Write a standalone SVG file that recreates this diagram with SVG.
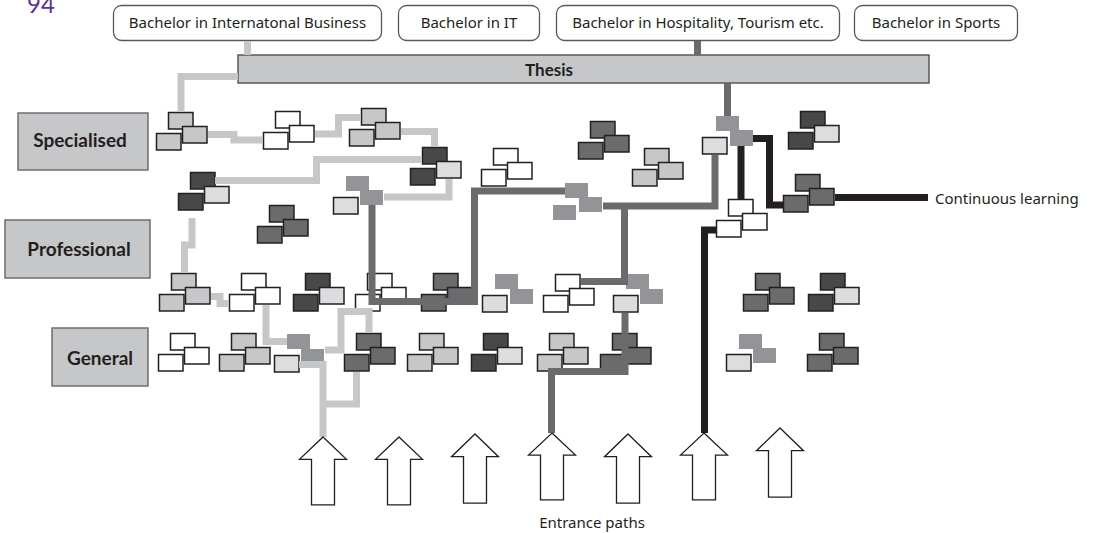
<svg xmlns="http://www.w3.org/2000/svg" width="1096" height="533" viewBox="0 0 1096 533">
<style>
text{font-family:"Noto Sans",Lato,"Liberation Sans",sans-serif;fill:#231f20}
.lbl{font-size:15px;text-anchor:middle}
.side{font-family:Lato,"Noto Sans",sans-serif;font-size:19px;font-weight:bold;text-anchor:middle}
.box{fill:#c6c7c9;stroke:#6d6e70;stroke-width:1.5}
.bach{fill:#fff;stroke:#58595b;stroke-width:1.3}
.r rect{stroke:#231f20;stroke-width:1.5}
.r rect.bl{stroke:none;fill:#939497}
.w{fill:#fff}.lg{fill:#c6c7c9}.vl{fill:#dcddde}.md{fill:#6b6b6e}.dk{fill:#48484a}
.p{fill:none;stroke-width:7;stroke-linejoin:miter;stroke-linecap:butt}
.pl{stroke:#c6c7c9}.pm{stroke:#6b6b6e}.pk{stroke:#231f20}
.arr{fill:#fff;stroke:#231f20;stroke-width:1.3}
</style>
<defs>
<polygon id="arrow" points="0,0 23.5,23 11.5,23 11.5,70 -11.5,70 -11.5,23 -23.5,23"/>
</defs>

<text x="27" y="13" style="font-family:Lato,sans-serif;font-size:24px;fill:#5c2e91">94</text>

<g id="bachelor-ib"><rect class="bach" x="113.5" y="5.5" width="268" height="35" rx="8"/><text class="lbl" x="247.5" y="28">Bachelor in Internatonal Business</text></g>
<g id="bachelor-it"><rect class="bach" x="398.5" y="5.5" width="141" height="35" rx="8"/><text class="lbl" x="469" y="28">Bachelor in IT</text></g>
<g id="bachelor-hosp"><rect class="bach" x="556.5" y="5.5" width="283" height="35" rx="8"/><text class="lbl" x="698" y="28">Bachelor in Hospitality, Tourism etc.</text></g>
<g id="bachelor-sports"><rect class="bach" x="854.5" y="5.5" width="163" height="35" rx="8"/><text class="lbl" x="936" y="28">Bachelor in Sports</text></g>

<g id="thesis"><rect x="238" y="55" width="691" height="28" style="fill:#c6c7c9;stroke:#58595b;stroke-width:1.5"/><text x="549" y="76" style="font-family:Lato,sans-serif;font-size:17px;font-weight:bold;text-anchor:middle">Thesis</text></g>

<g id="level-specialised"><rect class="box" x="18" y="113" width="130" height="57"/><text class="side" x="80" y="147">Specialised</text></g>
<g id="level-professional"><rect class="box" x="5" y="220" width="145" height="58"/><text class="side" x="79" y="256">Professional</text></g>
<g id="level-general"><rect class="box" x="52" y="328" width="96" height="58"/><text class="side" x="100" y="365">General</text></g>

<g id="modules" class="r">
<g id="m1" transform="translate(156,112)"><rect class="lg" x="12.5" y="0.5" width="24.5" height="16.5"/><rect class="lg" x="26.5" y="14.5" width="24.5" height="16.5"/><rect class="lg" x="0.5" y="21.5" width="24.5" height="16.5"/></g>
<g id="m2" transform="translate(263,111)"><rect class="w" x="12.5" y="0.5" width="24.5" height="16.5"/><rect class="w" x="26.5" y="14.5" width="24.5" height="16.5"/><rect class="w" x="0.5" y="21.5" width="24.5" height="16.5"/></g>
<g id="m3" transform="translate(349,108)"><rect class="lg" x="12.5" y="0.5" width="24.5" height="16.5"/><rect class="lg" x="26.5" y="14.5" width="24.5" height="16.5"/><rect class="lg" x="0.5" y="21.5" width="24.5" height="16.5"/></g>
<g id="m4" transform="translate(410,147)"><rect class="dk" x="12.5" y="0.5" width="24.5" height="16.5"/><rect class="vl" x="26.5" y="14.5" width="24.5" height="16.5"/><rect class="dk" x="0.5" y="21.5" width="24.5" height="16.5"/></g>
<g id="m5" transform="translate(178,172)"><rect class="dk" x="12.5" y="0.5" width="24.5" height="16.5"/><rect class="vl" x="26.5" y="14.5" width="24.5" height="16.5"/><rect class="dk" x="0.5" y="21.5" width="24.5" height="16.5"/></g>
<g id="m6" transform="translate(257,205)"><rect class="md" x="12.5" y="0.5" width="24.5" height="16.5"/><rect class="md" x="26.5" y="14.5" width="24.5" height="16.5"/><rect class="md" x="0.5" y="21.5" width="24.5" height="16.5"/></g>
<g id="m7" transform="translate(333,176)"><rect class="bl" x="13" y="0" width="23" height="15"/><rect class="bl" x="27" y="14" width="23" height="15"/><rect class="vl" x="0.5" y="21.5" width="24.5" height="16.5"/></g>
<g id="m8" transform="translate(481,148)"><rect class="w" x="12.5" y="0.5" width="24.5" height="16.5"/><rect class="w" x="26.5" y="14.5" width="24.5" height="16.5"/><rect class="w" x="0.5" y="21.5" width="24.5" height="16.5"/></g>
<g id="m9" transform="translate(553,183)"><rect class="bl" x="12" y="0" width="23" height="15"/><rect class="bl" x="26" y="14" width="23" height="15"/><rect class="bl" x="0" y="22" width="23" height="15"/></g>
<g id="m10" transform="translate(578,121)"><rect class="md" x="12.5" y="0.5" width="24.5" height="16.5"/><rect class="md" x="26.5" y="14.5" width="24.5" height="16.5"/><rect class="md" x="0.5" y="21.5" width="24.5" height="16.5"/></g>
<g id="m11" transform="translate(632,148)"><rect class="lg" x="12.5" y="0.5" width="24.5" height="16.5"/><rect class="lg" x="26.5" y="14.5" width="24.5" height="16.5"/><rect class="lg" x="0.5" y="21.5" width="24.5" height="16.5"/></g>
<g id="m12" transform="translate(702,116)"><rect class="bl" x="14" y="0" width="23" height="15"/><rect class="bl" x="28" y="14" width="23" height="16"/><rect class="vl" x="0.5" y="21.5" width="24.5" height="16.5"/></g>
<g id="m13" transform="translate(788,111)"><rect class="dk" x="12.5" y="0.5" width="24.5" height="16.5"/><rect class="vl" x="26.5" y="14.5" width="24.5" height="16.5"/><rect class="dk" x="0.5" y="21.5" width="24.5" height="16.5"/></g>
<g id="m14" transform="translate(716,199)"><rect class="w" x="12.5" y="0.5" width="24.5" height="16.5"/><rect class="w" x="26.5" y="14.5" width="24.5" height="16.5"/><rect class="w" x="0.5" y="21.5" width="24.5" height="16.5"/></g>
<g id="m15" transform="translate(783,174)"><rect class="md" x="12.5" y="0.5" width="24.5" height="16.5"/><rect class="md" x="26.5" y="14.5" width="24.5" height="16.5"/><rect class="md" x="0.5" y="21.5" width="24.5" height="16.5"/></g>
<g id="m16" transform="translate(159,273)"><rect class="lg" x="12.5" y="0.5" width="24.5" height="16.5"/><rect class="lg" x="26.5" y="14.5" width="24.5" height="16.5"/><rect class="lg" x="0.5" y="21.5" width="24.5" height="16.5"/></g>
<g id="m17" transform="translate(229,273)"><rect class="w" x="12.5" y="0.5" width="24.5" height="16.5"/><rect class="w" x="26.5" y="14.5" width="24.5" height="16.5"/><rect class="w" x="0.5" y="21.5" width="24.5" height="16.5"/></g>
<g id="m18" transform="translate(293,273)"><rect class="dk" x="12.5" y="0.5" width="24.5" height="16.5"/><rect class="vl" x="26.5" y="14.5" width="24.5" height="16.5"/><rect class="dk" x="0.5" y="21.5" width="24.5" height="16.5"/></g>
<g id="m19" transform="translate(355,273)"><rect class="w" x="12.5" y="0.5" width="24.5" height="16.5"/><rect class="w" x="26.5" y="14.5" width="24.5" height="16.5"/><rect class="w" x="0.5" y="21.5" width="24.5" height="16.5"/></g>
<g id="m20" transform="translate(421,273)"><rect class="md" x="12.5" y="0.5" width="24.5" height="16.5"/><rect class="md" x="26.5" y="14.5" width="24.5" height="16.5"/><rect class="md" x="0.5" y="21.5" width="24.5" height="16.5"/></g>
<g id="m21" transform="translate(482,274)"><rect class="bl" x="13" y="0" width="23" height="15"/><rect class="bl" x="28" y="15" width="23" height="15"/><rect class="vl" x="0.5" y="21.5" width="24.5" height="16.5"/></g>
<g id="m22" transform="translate(543,274)"><rect class="w" x="12.5" y="0.5" width="24.5" height="16.5"/><rect class="w" x="26.5" y="14.5" width="24.5" height="16.5"/><rect class="w" x="0.5" y="21.5" width="24.5" height="16.5"/></g>
<g id="m23" transform="translate(613,274)"><rect class="bl" x="13" y="0" width="23" height="15"/><rect class="bl" x="27" y="15" width="23" height="15"/><rect class="vl" x="0.5" y="21.5" width="24.5" height="16.5"/></g>
<g id="m24" transform="translate(743,273)"><rect class="md" x="12.5" y="0.5" width="24.5" height="16.5"/><rect class="md" x="26.5" y="14.5" width="24.5" height="16.5"/><rect class="md" x="0.5" y="21.5" width="24.5" height="16.5"/></g>
<g id="m25" transform="translate(808,273)"><rect class="dk" x="12.5" y="0.5" width="24.5" height="16.5"/><rect class="vl" x="26.5" y="14.5" width="24.5" height="16.5"/><rect class="dk" x="0.5" y="21.5" width="24.5" height="16.5"/></g>
<g id="m26" transform="translate(158,333)"><rect class="w" x="12.5" y="0.5" width="24.5" height="16.5"/><rect class="w" x="26.5" y="14.5" width="24.5" height="16.5"/><rect class="w" x="0.5" y="21.5" width="24.5" height="16.5"/></g>
<g id="m27" transform="translate(219,333)"><rect class="lg" x="12.5" y="0.5" width="24.5" height="16.5"/><rect class="lg" x="26.5" y="14.5" width="24.5" height="16.5"/><rect class="lg" x="0.5" y="21.5" width="24.5" height="16.5"/></g>
<g id="m28" transform="translate(274,334)"><rect class="bl" x="13" y="0" width="23" height="15"/><rect class="bl" x="27" y="15" width="23" height="15"/><rect class="vl" x="0.5" y="21.5" width="24.5" height="16.5"/></g>
<g id="m29" transform="translate(344,333)"><rect class="md" x="12.5" y="0.5" width="24.5" height="16.5"/><rect class="md" x="26.5" y="14.5" width="24.5" height="16.5"/><rect class="md" x="0.5" y="21.5" width="24.5" height="16.5"/></g>
<g id="m30" transform="translate(407,333)"><rect class="lg" x="12.5" y="0.5" width="24.5" height="16.5"/><rect class="lg" x="26.5" y="14.5" width="24.5" height="16.5"/><rect class="lg" x="0.5" y="21.5" width="24.5" height="16.5"/></g>
<g id="m31" transform="translate(471,333)"><rect class="dk" x="12.5" y="0.5" width="24.5" height="16.5"/><rect class="vl" x="26.5" y="14.5" width="24.5" height="16.5"/><rect class="dk" x="0.5" y="21.5" width="24.5" height="16.5"/></g>
<g id="m32" transform="translate(537,333)"><rect class="lg" x="12.5" y="0.5" width="24.5" height="16.5"/><rect class="lg" x="26.5" y="14.5" width="24.5" height="16.5"/><rect class="lg" x="0.5" y="21.5" width="24.5" height="16.5"/></g>
<g id="m33" transform="translate(600,333)"><rect class="md" x="12.5" y="0.5" width="24.5" height="16.5"/><rect class="md" x="26.5" y="14.5" width="24.5" height="16.5"/><rect class="md" x="0.5" y="21.5" width="24.5" height="16.5"/></g>
<g id="m34" transform="translate(726,334)"><rect class="bl" x="13" y="0" width="23" height="15"/><rect class="bl" x="27" y="14" width="23" height="15"/><rect class="vl" x="0.5" y="20.5" width="24.5" height="16.5"/></g>
<g id="m35" transform="translate(807,333)"><rect class="md" x="12.5" y="0.5" width="24.5" height="16.5"/><rect class="md" x="26.5" y="14.5" width="24.5" height="16.5"/><rect class="md" x="0.5" y="21.5" width="24.5" height="16.5"/></g>
</g>

<g id="connectors">
<path class="p pl" d="M247.5,41 V55"/>
<path class="p pm" d="M697.5,41 V55"/>
<path class="p pl" d="M238,76.5 H181 V112"/>
<path class="p pl" d="M208,134.5 H234 V140 H262"/>
<path class="p pl" d="M315,134 H338.5 V117.5 H361"/>
<path class="p pl" d="M401,131.5 H434.5 V147"/>
<path class="p pl" d="M422,159.5 H316.5 V180.5 H215"/>
<path class="p pl" d="M449,179 V197 H384"/>
<path class="p pl" d="M192,218 V245 H184.5 V273"/>
<path class="p pl" d="M211,296.5 H220 V303.5 H229"/>
<path class="p pl" d="M266,305 V341.5 H287"/>
<path class="p pl" d="M325,350 H341 V311.5 H369 V333"/>
<path class="p pl" d="M299,364.5 H323 V437"/>
<path class="p pl" d="M356.5,372 V404 H323"/>
<path class="p pm" d="M727.5,83 V116"/>
<path class="p pm" d="M715,155 V206 H603 M624.5,206 V281.5 H581"/>
<path class="p pm" d="M625,313 V371.5 H551.5 V433"/>
<path class="p pm" d="M372,205 V301.5 H474.5 V191 H565"/>
<path class="p pk" d="M753,138.5 H769.5 V205 H783"/>
<path class="p pk" d="M741,146 V200"/>
<path class="p pk" d="M835,197.5 H928"/>
<path class="p pk" d="M716,230 H704.5 V433"/>
</g>

<g id="entrances" class="arr">
<use href="#arrow" transform="translate(323,437) scale(1,0.971)"/>
<use href="#arrow" transform="translate(399,437) scale(1,0.971)"/>
<use href="#arrow" transform="translate(475,434) scale(1,0.986)"/>
<use href="#arrow" transform="translate(552,433) scale(1,0.957)"/>
<use href="#arrow" transform="translate(628,434) scale(1,0.986)"/>
<use href="#arrow" transform="translate(704,433) scale(1,0.957)"/>
<use href="#arrow" transform="translate(780,428) scale(1,0.986)"/>
</g>

<text x="935" y="204" style="font-size:15px">Continuous learning</text>
<text x="592" y="528" style="font-size:15px;text-anchor:middle">Entrance paths</text>
</svg>
